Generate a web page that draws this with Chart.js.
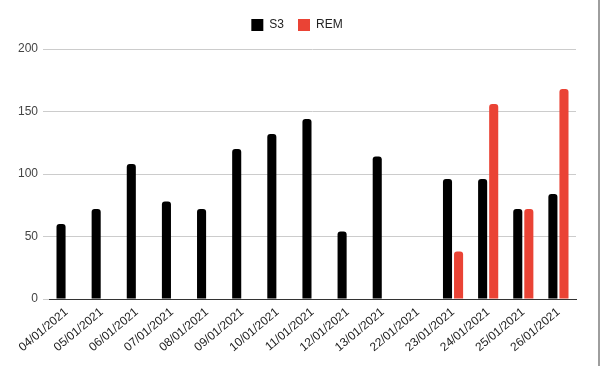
<!DOCTYPE html>
<html>
<head>
<meta charset="utf-8">
<script src="https://cdn.jsdelivr.net/npm/chart.js@4"></script>
<style>
  body { margin: 0; background: #fff; }
  #wrap { width: 598px; height: 366px; border-right: 2px solid #9e9e9e; }
</style>
</head>
<body>
<div id="wrap"><canvas id="chart" width="598" height="366"></canvas></div>
<script>
const days = ['04/01/2021', '05/01/2021', '06/01/2021', '07/01/2021', '08/01/2021',
    '09/01/2021', '10/01/2021', '11/01/2021', '12/01/2021', '13/01/2021',
    '22/01/2021', '23/01/2021', '24/01/2021', '25/01/2021', '26/01/2021'];
const s3 = [60, 72, 108, 78, 72, 120, 132, 144, 54, 114, null, 96, 96, 72, 84];
const rem = [null, null, null, null, null, null, null, null, null, null, null, 38, 156, 72, 168];
const yTicks = [0, 50, 100, 150, 200];

const labelFont = { family: 'Liberation Sans, Arial, sans-serif', size: 12 };

function makeDataset(label, data, color) {
    return {
        label: label,
        data: data,
        backgroundColor: color,
        borderRadius: 3,
        borderSkipped: 'start',
        categoryPercentage: 0.63,
        barPercentage: 0.82
    };
}

// a bit more room between the legend and the plot
const legendSpacer = {
    id: 'legendSpacer',
    beforeInit: function (chart) {
        const fit = chart.legend.fit;
        chart.legend.fit = function () {
            fit.bind(chart.legend)();
            this.height += 8;
        };
    }
};

new Chart(document.getElementById('chart'), {
    type: 'bar',
    data: {
        labels: days,
        datasets: [
            makeDataset('S3', s3, '#000000'),
            makeDataset('REM', rem, '#ea4335')
        ]
    },
    plugins: [legendSpacer],
    options: {
        responsive: false,
        animation: false,
        layout: { padding: { top: 5, left: 18, right: 22, bottom: 0 } },
        plugins: {
            tooltip: { enabled: false },
            legend: {
                position: 'top',
                labels: {
                    boxWidth: 12,
                    boxHeight: 12,
                    padding: 14,
                    color: '#222',
                    font: labelFont
                }
            }
        },
        scales: {
            x: {
                grid: { display: false, drawTicks: false },
                border: { color: '#333', width: 1 },
                ticks: {
                    color: '#222',
                    font: labelFont,
                    minRotation: 40,
                    maxRotation: 40,
                    autoSkip: false,
                    padding: 6
                },
                afterFit: function (scale) {
                    scale.height = 67;
                    scale.paddingLeft = 0;
                    scale.paddingRight = 0;
                }
            },
            y: {
                min: 0,
                max: 200,
                afterBuildTicks: function (scale) {
                    scale.ticks = yTicks.map(function (v) { return { value: v }; });
                },
                grid: { color: '#cccccc', tickLength: 6, tickColor: '#cccccc' },
                border: { display: false },
                ticks: { color: '#444', font: labelFont, padding: 5 },
                afterFit: function (scale) { scale.width = 31; }
            }
        }
    }
});
</script>
</body>
</html>
